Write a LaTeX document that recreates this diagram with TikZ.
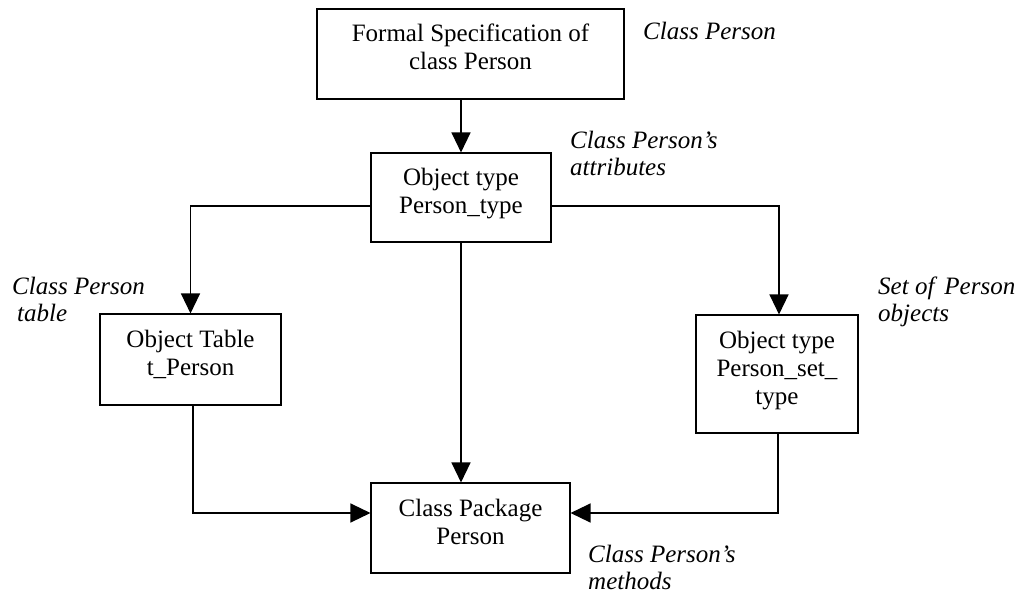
\documentclass[tikz,border=0pt]{standalone}
\usepackage{fontspec}
\setmainfont{Liberation Serif}
\usetikzlibrary{arrows.meta}
\newcommand{\padbot}{\rule[-15.6pt]{0pt}{1pt}}
\tikzset{
  box/.style={draw, line width=1.1pt, inner sep=0pt, font=\fontsize{25}{28}\selectfont},
  lbl/.style={inner sep=0pt, anchor=base west, font=\fontsize{25}{27}\selectfont\itshape},
  conn/.style={line width=1.3pt, -{Triangle[length=20pt,width=19pt]}},
}
\begin{document}
\begin{tikzpicture}[x=1pt,y=-1pt]
\useasboundingbox (0,0) rectangle (1022,594);
\node[box, minimum width=307pt, minimum height=90pt] (spec) at (470.5,54)
  {\begin{tabular}{@{}c@{}}Formal Specification of\\class Person\padbot\end{tabular}};
\node[box, minimum width=180pt, minimum height=89pt] (otype) at (461,197.5)
  {\begin{tabular}{@{}c@{}}Object type\\Person\_type\padbot\end{tabular}};
\node[box, minimum width=181pt, minimum height=91pt] (tbl) at (190.5,359.5)
  {\begin{tabular}{@{}c@{}}Object Table\\t\_Person\padbot\end{tabular}};
\node[box, minimum width=162pt, minimum height=118pt] (set) at (777,374)
  {\begin{tabular}{@{}c@{}}Object type\\Person\_set\_\\type\padbot\end{tabular}};
\node[box, minimum width=199pt, minimum height=90pt] (pkg) at (470.5,528)
  {\begin{tabular}{@{}c@{}}Class Package\\Person\padbot\end{tabular}};

\node[lbl] (l1) at (643,40) {Class Person};
\node[lbl] (l2) at (570,148) {\begin{tabular}[t]{@{}l@{}}Class Person’s\\attributes\end{tabular}};
\node[lbl] (l3) at (12,294) {\begin{tabular}[t]{@{}l@{}}Class Person\\\hspace*{5pt}table\end{tabular}};
\node[lbl] (l4) at (878,294) {\begin{tabular}[t]{@{}l@{}}Set of\hspace{10pt}Person\\objects\end{tabular}};
\node[lbl] (l5) at (588,562) {\begin{tabular}[t]{@{}l@{}}Class Person’s\\methods\end{tabular}};

\draw[conn] (otype.north |- spec.south) -- (otype.north);
\draw[conn] ([yshift=-8.5pt]otype.west) -| (tbl.north);
\draw[conn] ([yshift=-8.5pt]otype.east) -| ([xshift=2pt]set.north);
\draw[conn] (otype.south) -- (otype.south |- pkg.north);
\draw[conn] ([xshift=2.5pt]tbl.south) |- ([yshift=15pt]pkg.west);
\draw[conn] ([xshift=1pt]set.south) |- ([yshift=15pt]pkg.east);
\end{tikzpicture}
\end{document}
